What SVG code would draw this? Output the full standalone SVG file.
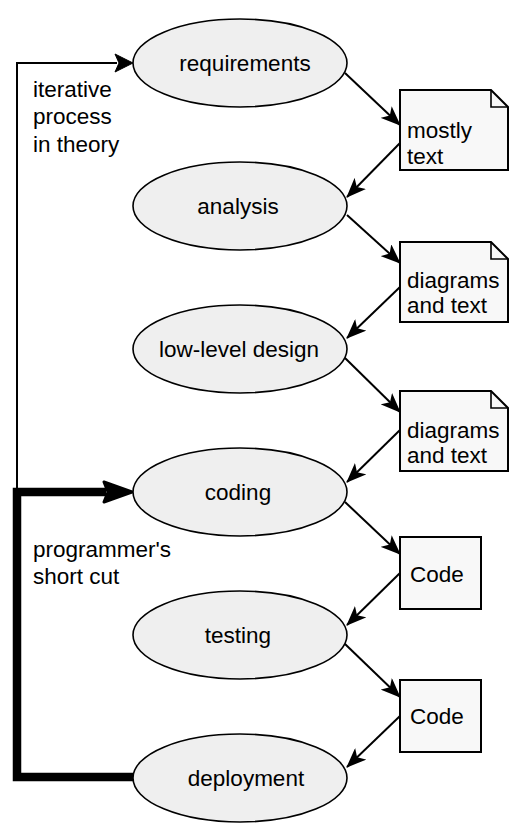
<svg xmlns="http://www.w3.org/2000/svg" width="519" height="839" viewBox="0 0 519 839">
<style>
text { font-family: "Liberation Sans", Arial, sans-serif; font-size: 22.5px; fill: #000; }
.mid { text-anchor: middle; }
.ell { fill: #efefef; stroke: #000; stroke-width: 1.6; }
.doc { fill: #f8f8f8; stroke: #000; stroke-width: 2; stroke-linejoin: miter; }
.fold { fill: none; stroke: #000; stroke-width: 1.6; }
.flow { fill: none; stroke: #000; stroke-width: 2; marker-end: url(#ah); }
.thin { fill: none; stroke: #000; stroke-width: 2; }
.thick { fill: none; stroke: #000; stroke-width: 8.5; stroke-linejoin: miter; stroke-linecap: butt; }
</style>
<defs>
<marker id="ah" markerUnits="userSpaceOnUse" markerWidth="20" markerHeight="16" refX="19" refY="8" orient="auto" viewBox="0 0 20 16">
<path d="M0,0 L20,8 L0,16 L5,8 Z" fill="#000"/>
</marker>
</defs>
<rect x="0" y="0" width="519" height="839" fill="#fff"/>

<g id="connectors">
<path class="flow" d="M345,73 L400,125"/>
<path class="flow" d="M400,143 L347,197"/>
<path class="flow" d="M347,215 L400,263"/>
<path class="flow" d="M400,287 L347,338"/>
<path class="flow" d="M345,358 L400,412"/>
<path class="flow" d="M400,430 L347,482"/>
<path class="flow" d="M345,502 L400,554"/>
<path class="flow" d="M400,573 L347,625"/>
<path class="flow" d="M345,644 L400,697"/>
<path class="flow" d="M400,716 L347,767"/>
<path class="thin" d="M17,492 L17,63 L117,63"/>
<path d="M115,54 L133,63 L115,72 L119,63 Z" fill="#000" stroke="#000" stroke-width="1"/>
<path class="thick" d="M133,777 L17,777 L17,492 L106,492"/>
<path d="M104,482 L132,492 L104,502 L108,492 Z" fill="#000" stroke="#000" stroke-width="3" stroke-linejoin="round"/>
</g>

<g id="label-iterative">
<text x="33" y="97">iterative</text>
<text x="33" y="124">process</text>
<text x="33" y="152">in theory</text>
</g>
<g id="label-shortcut">
<text x="33" y="557">programmer's</text>
<text x="33" y="584">short cut</text>
</g>

<g id="requirements">
<ellipse class="ell" cx="240" cy="63" rx="107" ry="44"/>
<text class="mid" x="245" y="71">requirements</text>
</g>
<g id="analysis">
<ellipse class="ell" cx="240" cy="206" rx="107" ry="44"/>
<text class="mid" x="238" y="214">analysis</text>
</g>
<g id="low-level-design">
<ellipse class="ell" cx="240" cy="349" rx="107" ry="44"/>
<text class="mid" x="239" y="357">low-level design</text>
</g>
<g id="coding">
<ellipse class="ell" cx="240" cy="492" rx="107" ry="44"/>
<text class="mid" x="238" y="500">coding</text>
</g>
<g id="testing">
<ellipse class="ell" cx="240" cy="635" rx="107" ry="44"/>
<text class="mid" x="238" y="643">testing</text>
</g>
<g id="deployment">
<ellipse class="ell" cx="240" cy="778" rx="107" ry="44"/>
<text class="mid" x="246" y="786">deployment</text>
</g>

<g id="doc-mostly-text">
<path class="doc" d="M400,90 H491 L508,107 V170 H400 Z"/>
<path class="fold" d="M491,90 V107 H508"/>
<text x="407" y="138">mostly</text>
<text x="407" y="164">text</text>
</g>
<g id="doc-diagrams-1">
<path class="doc" d="M400,242 H491 L508,259 V322 H400 Z"/>
<path class="fold" d="M491,242 V259 H508"/>
<text x="407" y="288">diagrams</text>
<text x="407" y="313">and text</text>
</g>
<g id="doc-diagrams-2">
<path class="doc" d="M400,391 H491 L508,408 V471 H400 Z"/>
<path class="fold" d="M491,391 V408 H508"/>
<text x="407" y="438">diagrams</text>
<text x="407" y="463">and text</text>
</g>
<g id="code-1">
<rect class="doc" x="400" y="537" width="81" height="72"/>
<text x="410" y="582">Code</text>
</g>
<g id="code-2">
<rect class="doc" x="400" y="680" width="81" height="72"/>
<text x="410" y="724">Code</text>
</g>
</svg>
